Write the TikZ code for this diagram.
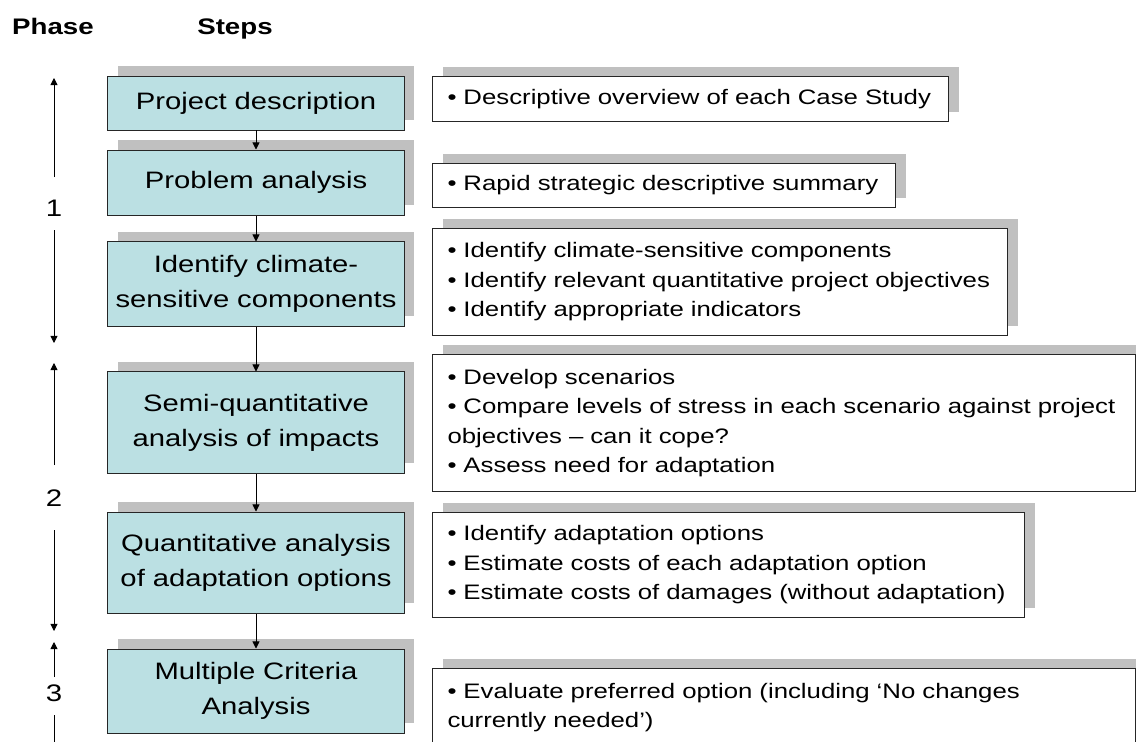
\documentclass[tikz,border=0pt]{standalone}
\usepackage{fontspec}
\setmainfont{Liberation Sans}[FakeStretch=1.23]
\usepackage{tikz}
\usetikzlibrary{shapes, arrows.meta, positioning, calc, shadows}

\definecolor{boxcyan}{RGB}{187,224,227}
\definecolor{shadowgray}{RGB}{192,192,192}

\tikzset{
  heading/.style={anchor=base, font=\bfseries\fontsize{16}{19}\selectfont},
  phasenum/.style={font=\fontsize{17}{20}\selectfont},
  boxshadow/.style={general shadow={fill=shadowgray, shadow xshift=0.25cm, shadow yshift=0.24cm}},
  stepbox/.style={draw=black!85, line width=0.7pt, fill=boxcyan, boxshadow,
    text width=7.3cm, inner xsep=0.05cm, inner ysep=0pt, align=center,
    font=\fontsize{16.9}{24.9}\selectfont},
  notebox/.style={draw=black!85, line width=0.7pt, fill=white, boxshadow,
    anchor=north west, inner xsep=0.375cm, inner ysep=0pt, align=left,
    font=\fontsize{14.9}{21}\selectfont},
  flow/.style={-{Triangle[length=5pt,width=5pt]}, line width=0.6pt},
}

\begin{document}
\begin{tikzpicture}[x=0.025cm, y=-0.025cm]
  \useasboundingbox (0,0) rectangle (1136,742);

  % Column headings
  \node[heading] (phase) at (53,35) {Phase};
  \node[heading] (steps) at (235,35) {Steps};

  % Steps
  \node[stepbox, minimum height=1.35cm]  (S1) at (256,103)   {Project description};
  \node[stepbox, minimum height=1.625cm] (S2) at (256,182.5) {Problem analysis};
  \node[stepbox, minimum height=2.1cm]   (S3) at (256,284)   {Identify climate-\\sensitive components};
  \node[stepbox, minimum height=2.525cm] (S4) at (256,422.5) {Semi-quantitative\\analysis of impacts};
  \node[stepbox, minimum height=2.525cm] (S5) at (256,562.5) {Quantitative analysis\\of adaptation options};
  \node[stepbox, minimum height=2.1cm]   (S6) at (256,691)   {Multiple Criteria\\Analysis};

  % Arrows between steps
  \foreach \a/\b in {S1/S2, S2/S3, S3/S4, S4/S5, S5/S6}
    \draw[flow] (\a.south) -- (\b.north);

  % Notes beside each step
  \node[notebox, text width=12.15cm, minimum height=1.125cm] (N1) at (432,76)
    {• Descriptive overview of each Case Study};
  \node[notebox, text width=10.825cm, minimum height=1.1cm] (N2) at (432,163)
    {• Rapid strategic descriptive summary};
  \node[notebox, text width=13.625cm, minimum height=2.675cm] (N3) at (432,228)
    {• Identify climate-sensitive components\\
     • Identify relevant quantitative project objectives\\
     • Identify appropriate indicators};
  \node[notebox, text width=16.825cm, minimum height=3.425cm] (N4) at (432,354)
    {• Develop scenarios\\
     • Compare levels of stress in each scenario against project\\
     objectives – can it cope?\\
     • Assess need for adaptation};
  \node[notebox, text width=14.05cm, minimum height=2.625cm] (N5) at (432,512)
    {• Identify adaptation options\\
     • Estimate costs of each adaptation option\\
     • Estimate costs of damages (without adaptation)};
  \node[notebox, text width=16.825cm, minimum height=1.95cm] (N6) at (432,668)
    {• Evaluate preferred option (including ‘No changes\\
     currently needed’)};

  % Phase spans
  \node[phasenum] (ph1) at (54,208) {1};
  \node[phasenum] (ph2) at (54,498) {2};
  \node[phasenum] (ph3) at (54,693) {3};

  \coordinate (P1top) at (54,78);
  \coordinate (P1a) at (54,177);
  \coordinate (P1b) at (54,230);
  \coordinate (P1bot) at (54,343);
  \coordinate (P2top) at (54,363);
  \coordinate (P2a) at (54,465);
  \coordinate (P2b) at (54,530);
  \coordinate (P2bot) at (54,631);
  \coordinate (P3top) at (54,642);
  \coordinate (P3a) at (54,677);
  \coordinate (P3b) at (54,715);
  \coordinate (P3bot) at (54,750);

  \draw[flow] (P1a) -- (P1top);
  \draw[flow] (P1b) -- (P1bot);
  \draw[flow] (P2a) -- (P2top);
  \draw[flow] (P2b) -- (P2bot);
  \draw[flow] (P3a) -- (P3top);
  \draw[line width=0.6pt] (P3b) -- (P3bot);
\end{tikzpicture}
\end{document}
